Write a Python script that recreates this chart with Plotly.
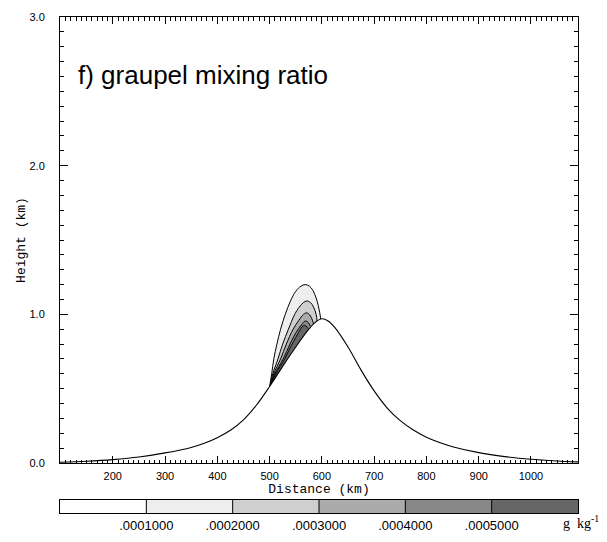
import plotly.graph_objects as go

# ---------------- data ----------------
# terrain profile (distance km, height km)
terrain_km = [99, 150, 200, 250, 300, 350, 375, 400, 425, 450, 475, 500, 525, 550, 575, 588, 600,
              612, 625, 650, 675, 700, 725, 750, 775, 800, 825, 850, 900, 950, 1000, 1050, 1090]
terrain_h = [0.005, 0.012, 0.023, 0.04, 0.068, 0.105, 0.133, 0.17, 0.22, 0.29, 0.39, 0.515, 0.65,
             0.78, 0.90, 0.948, 0.97, 0.955, 0.91, 0.78, 0.625, 0.485, 0.37, 0.285, 0.222, 0.174,
             0.138, 0.11, 0.07, 0.043, 0.025, 0.014, 0.008]

# graupel mixing-ratio contours (upper outlines, g/kg levels)
contour_levels = [0.0001, 0.0002, 0.0003, 0.0004, 0.0005]
c1_km = [500, 504, 508, 514, 521, 530, 540, 550, 560, 568, 576, 583, 589, 593, 596, 598]
c1_h = [0.515, 0.60, 0.70, 0.80, 0.90, 1.00, 1.09, 1.155, 1.19, 1.20, 1.19, 1.16, 1.11, 1.06, 1.01, 0.96]
c2_km = [501, 503, 506, 516, 525, 536, 548, 557, 565, 571, 578, 584, 589, 591]
c2_h = [0.52, 0.55, 0.60, 0.70, 0.80, 0.90, 1.00, 1.05, 1.08, 1.09, 1.08, 1.05, 1.00, 0.95]
c3_km = [502, 504, 508, 521, 532, 545, 556, 565, 571, 577, 582, 584]
c3_h = [0.525, 0.55, 0.60, 0.70, 0.80, 0.90, 0.96, 1.00, 1.01, 0.995, 0.96, 0.935]
c4_km = [503, 505, 510, 526, 539, 551, 561, 568, 574, 578]
c4_h = [0.53, 0.55, 0.60, 0.70, 0.80, 0.88, 0.93, 0.955, 0.945, 0.92]
c5_km = [504, 506, 512, 529, 540, 551, 559, 565, 570, 573]
c5_h = [0.535, 0.55, 0.60, 0.70, 0.78, 0.85, 0.90, 0.925, 0.92, 0.905]

shade_colors = ["#ffffff", "#eeeeee", "#cfcfcf", "#ababab", "#888888", "#666666"]
cbar_labels = [".0001000", ".0002000", ".0003000", ".0004000", ".0005000"]
x_ticks = [200, 300, 400, 500, 600, 700, 800, 900, 1000]
y_ticks = [0.0, 1.0, 2.0, 3.0]

# ---------------- figure ----------------
fig = go.Figure()

contours = [(c1_km, c1_h), (c2_km, c2_h), (c3_km, c3_h), (c4_km, c4_h), (c5_km, c5_h)]
for i, (cx, cz) in enumerate(contours):
    fig.add_trace(go.Scatter(
        x=cx + [cx[-1], cx[0]], y=cz + [0, 0], mode="lines", fill="toself",
        fillcolor=shade_colors[i + 1], line=dict(width=0), hoverinfo="skip",
        showlegend=False, xaxis="x", yaxis="y"))
for cx, cz in contours:
    fig.add_trace(go.Scatter(
        x=cx, y=cz, mode="lines", line=dict(color="black", width=1, shape="spline"),
        showlegend=False, hoverinfo="skip", xaxis="x", yaxis="y"))

fig.add_trace(go.Scatter(
    x=terrain_km, y=terrain_h, mode="lines", fill="tozeroy", fillcolor="white",
    line=dict(color="black", width=1.1, shape="spline", smoothing=1.0), showlegend=False,
    hoverinfo="skip", xaxis="x", yaxis="y"))

# colour bar built as a one-row heatmap
n = len(shade_colors)
cscale = []
for i, c in enumerate(shade_colors):
    cscale.append([i / n, c])
    cscale.append([(i + 1) / n, c])
fig.add_trace(go.Heatmap(
    z=[list(range(n))], x=list(range(n)), y=[0], colorscale=cscale,
    zmin=-0.5, zmax=n - 0.5, showscale=False, xaxis="x2", yaxis="y2",
    hoverinfo="skip"))

for k in range(len(cbar_labels)):
    fig.add_shape(type="line", xref="x2", yref="y2", x0=k + 0.5, x1=k + 0.5,
                  y0=-0.5, y1=0.5, line=dict(color="black", width=1))

tick_font = dict(family="Liberation Sans, Arial, sans-serif", size=11, color="black")
title_font = dict(family="Liberation Mono, Courier New, monospace", size=13, color="black")

fig.update_layout(
    width=607, height=542,
    margin=dict(l=60, r=29, t=17, b=20, autoexpand=False),
    paper_bgcolor="white", plot_bgcolor="white",
    xaxis=dict(
        domain=[0, 1], anchor="y", range=[99, 1090], automargin=False,
        tickvals=x_ticks, ticktext=[str(v) for v in x_ticks],
        ticks="inside", ticklen=7, tickwidth=1, tickcolor="black",
        minor=dict(dtick=10, tick0=0, ticks="inside", ticklen=3.5, tickcolor="black"),
        showline=True, linecolor="black", linewidth=1, mirror="ticks",
        showgrid=False, zeroline=False, tickfont=tick_font, ticklabelstandoff=3,
        title=dict(text="Distance (km)", font=title_font, standoff=1),
    ),
    yaxis=dict(
        domain=[0.1168, 1], anchor="x", range=[0, 3], automargin=False,
        tickvals=y_ticks, ticktext=["%.1f" % v for v in y_ticks],
        ticks="inside", ticklen=8, tickwidth=1, tickcolor="black",
        minor=dict(dtick=0.1, tick0=0, ticks="inside", ticklen=4, tickcolor="black"),
        showline=True, linecolor="black", linewidth=1, mirror="ticks",
        showgrid=False, zeroline=False, tickfont=tick_font, ticklabelstandoff=12,
        title=dict(text="Height (km)", font=title_font, standoff=0),
    ),
    xaxis2=dict(
        domain=[0, 1], anchor="y2", range=[-0.5, n - 0.5], automargin=False,
        tickvals=[k + 0.5 for k in range(len(cbar_labels))], ticktext=cbar_labels,
        ticks="", showline=True, linecolor="black", linewidth=1, mirror=True,
        showgrid=False, zeroline=False,
        tickfont=dict(family="Liberation Sans, Arial, sans-serif", size=13, color="black"),
    ),
    yaxis2=dict(
        domain=[0.0178, 0.0436], anchor="x2", range=[-0.5, 0.5], automargin=False,
        showticklabels=False, ticks="", showline=True, linecolor="black",
        linewidth=1, mirror=True, showgrid=False, zeroline=False,
    ),
    annotations=[
        dict(text="f) graupel mixing ratio", xref="x domain", yref="y domain",
             x=0.031, y=0.87, xanchor="left", yanchor="middle", showarrow=False,
             font=dict(family="Liberation Sans, Arial, sans-serif", size=26, color="black")),
        dict(text="g  kg<sup>-1</sup>", xref="paper", yref="paper",
             x=1.045, y=0.0, xanchor="right", yanchor="middle", showarrow=False,
             font=dict(family="Liberation Serif, Times New Roman, serif", size=14, color="black")),
    ],
)

fig.write_html("out.html")
